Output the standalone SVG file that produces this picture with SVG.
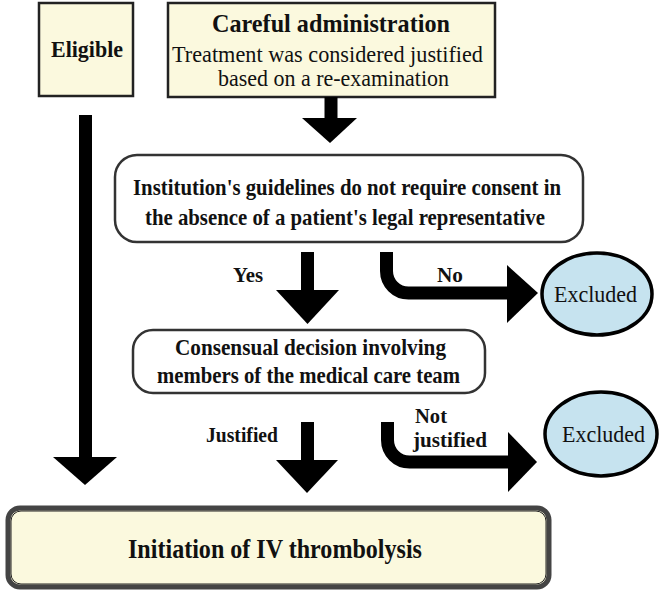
<svg xmlns="http://www.w3.org/2000/svg" width="666" height="593" viewBox="0 0 666 593">
<style>
.box{fill:#fbf9de;stroke:#222;stroke-width:2.5}
.rbox{fill:#fff;stroke:#333;stroke-width:2.5}
.ell{fill:#c6e3ef;stroke:#000;stroke-width:3.5}
.t{font-family:"Liberation Serif","Times New Roman","DejaVu Serif",serif;fill:#111}
.b{font-weight:bold}
.shaft{fill:none;stroke:#000;stroke-width:13}
.head{fill:#000}
</style>
<rect width="666" height="593" fill="#fff"/>
<g id="eligible">
<rect class="box" x="39" y="3" width="94" height="93"/>
<text class="t b" x="51" y="57" font-size="24" textLength="72" lengthAdjust="spacingAndGlyphs">Eligible</text>
</g>
<g id="careful">
<rect class="box" x="168" y="3" width="327" height="94"/>
<text class="t b" x="212" y="32" font-size="25" textLength="238" lengthAdjust="spacingAndGlyphs">Careful administration</text>
<text class="t" x="172" y="62" font-size="24" textLength="311" lengthAdjust="spacingAndGlyphs">Treatment was considered justified</text>
<text class="t" x="218" y="86" font-size="24" textLength="231" lengthAdjust="spacingAndGlyphs">based on a re-examination</text>
</g>
<g id="institution">
<rect class="rbox" x="115" y="155" width="468" height="87" rx="22"/>
<text class="t b" x="133" y="195" font-size="24" textLength="428" lengthAdjust="spacingAndGlyphs">Institution's guidelines do not require consent in</text>
<text class="t b" x="145" y="225" font-size="24" textLength="400" lengthAdjust="spacingAndGlyphs">the absence of a patient's legal representative</text>
</g>
<g id="excluded1">
<ellipse class="ell" cx="597" cy="294" rx="55" ry="41"/>
<text class="t" x="554" y="302" font-size="23" textLength="83" lengthAdjust="spacingAndGlyphs">Excluded</text>
</g>
<g id="consensual">
<rect class="rbox" x="133" y="330" width="352" height="63" rx="20"/>
<text class="t b" x="175" y="355" font-size="24" textLength="271" lengthAdjust="spacingAndGlyphs">Consensual decision involving</text>
<text class="t b" x="157" y="383" font-size="24" textLength="303" lengthAdjust="spacingAndGlyphs">members of the medical care team</text>
</g>
<g id="excluded2">
<ellipse class="ell" cx="601" cy="434" rx="56" ry="42"/>
<text class="t" x="562" y="442" font-size="23" textLength="83" lengthAdjust="spacingAndGlyphs">Excluded</text>
</g>
<g id="initiation">
<rect x="8" y="508" width="541" height="79" rx="12" fill="#fbf9de" stroke="#444" stroke-width="5"/>
<rect x="11" y="511" width="535" height="73" rx="10" fill="none" stroke="#222" stroke-width="1"/>
<text class="t b" x="128" y="558" font-size="27" textLength="294" lengthAdjust="spacingAndGlyphs">Initiation of IV thrombolysis</text>
</g>
<g id="connectors">
<path class="shaft" d="M331 97V120"/>
<path class="head" d="M302 118H357L330 143Z"/>
<path class="shaft" d="M85.5 115V459"/>
<path class="head" d="M53 457H117L85 485Z"/>
<path class="shaft" d="M307.5 252V292"/>
<path class="head" d="M276 290H339L307.5 324Z"/>
<path class="shaft" d="M386.5 252V271A22 22 0 0 0 408.5 293H509"/>
<path class="head" d="M507 265L538 293L507 323Z"/>
<path class="shaft" d="M307.5 422V462"/>
<path class="head" d="M276 460H338L307 493Z"/>
<path class="shaft" d="M387.5 422V440A22 22 0 0 0 409.5 462H510"/>
<path class="head" d="M508 432L537 462L508 492Z"/>
<text class="t b" x="233" y="282" font-size="21" textLength="30" lengthAdjust="spacingAndGlyphs">Yes</text>
<text class="t b" x="437" y="282" font-size="21" textLength="26" lengthAdjust="spacingAndGlyphs">No</text>
<text class="t b" x="206" y="442" font-size="21" textLength="72" lengthAdjust="spacingAndGlyphs">Justified</text>
<text class="t b" x="415" y="423" font-size="21" textLength="32" lengthAdjust="spacingAndGlyphs">Not</text>
<text class="t b" x="413" y="447" font-size="21" textLength="74" lengthAdjust="spacingAndGlyphs">justified</text>
</g>
</svg>
